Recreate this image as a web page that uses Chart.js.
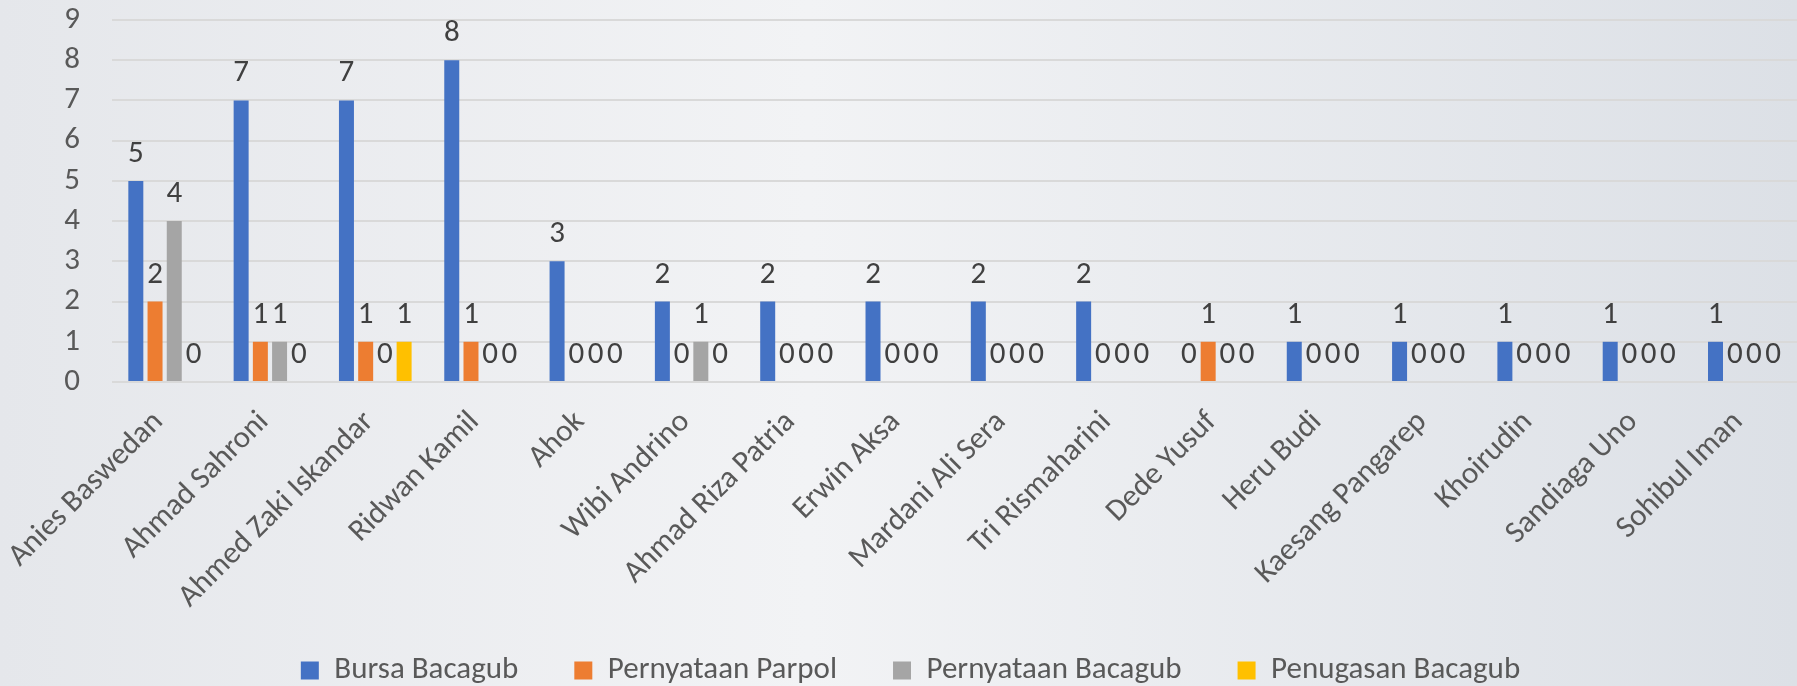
<!DOCTYPE html>
<html>
<head>
<meta charset="utf-8">
<script src="https://cdn.jsdelivr.net/npm/chart.js@4.4.1/dist/chart.umd.min.js"></script>
<style>
  body { margin: 0; background: #eef0f3; }
  #wrap { width: 1797px; height: 686px; position: relative; }
</style>
</head>
<body>
<div id="wrap"><canvas id="myChart"></canvas></div>
<script>
const categories = [
  'Anies Baswedan', 'Ahmad Sahroni', 'Ahmed Zaki Iskandar', 'Ridwan Kamil', 'Ahok',
  'Wibi Andrino', 'Ahmad Riza Patria', 'Erwin Aksa', 'Mardani Ali Sera', 'Tri Rismaharini',
  'Dede Yusuf', 'Heru Budi', 'Kaesang Pangarep', 'Khoirudin', 'Sandiaga Uno', 'Sohibul Iman'
];
const bursaBacagub       = [5, 7, 7, 8, 3, 2, 2, 2, 2, 2, 0, 1, 1, 1, 1, 1];
const pernyataanParpol   = [2, 1, 1, 1, 0, 0, 0, 0, 0, 0, 1, 0, 0, 0, 0, 0];
const pernyataanBacagub  = [4, 1, 0, 0, 0, 1, 0, 0, 0, 0, 0, 0, 0, 0, 0, 0];
const penugasanBacagub   = [0, 0, 1, 0, 0, 0, 0, 0, 0, 0, 0, 0, 0, 0, 0, 0];
const yTicks = [0, 1, 2, 3, 4, 5, 6, 7, 8, 9];

const FONT = "Calibri, Carlito, Lato, 'Open Sans', sans-serif";
const FSIZE = 31;

// background gradient like the slide behind the chart
const bgPlugin = {
  id: 'bg',
  afterLayout(chart) {
    // nudge legend a bit to the right, like the original
    chart.legend.left += 12;
    chart.legend.right += 12;
    // let long rotated names run past the x-axis box
    chart.scales.x._computeLabelArea = () => null;
  },
  beforeDraw(chart) {
    const { ctx, width, height } = chart;
    const g = ctx.createLinearGradient(0, 0, width, 0);
    g.addColorStop(0, '#e5e7eb');
    g.addColorStop(0.45, '#f2f3f5');
    g.addColorStop(1, '#dce0e6');
    ctx.save();
    ctx.fillStyle = g;
    ctx.fillRect(0, 0, width, height);
    ctx.restore();
  }
};

// value labels above every bar (zeros too)
const valueLabels = {
  id: 'valueLabels',
  afterDatasetsDraw(chart) {
    const ctx = chart.ctx;
    ctx.save();
    ctx.font = FSIZE + 'px ' + FONT;
    ctx.fillStyle = '#404040';
    ctx.textAlign = 'center';
    ctx.textBaseline = 'alphabetic';
    chart.data.datasets.forEach((ds, i) => {
      const meta = chart.getDatasetMeta(i);
      meta.data.forEach((bar, j) => {
        ctx.fillText(String(ds.data[j]), bar.x, bar.y - 19);
      });
    });
    ctx.restore();
  }
};

new Chart(document.getElementById('myChart'), {
  type: 'bar',
  data: {
    labels: categories,
    datasets: [
      { label: 'Bursa Bacagub', data: bursaBacagub, backgroundColor: '#4472C4' },
      { label: 'Pernyataan Parpol', data: pernyataanParpol, backgroundColor: '#ED7D31' },
      { label: 'Pernyataan Bacagub', data: pernyataanBacagub, backgroundColor: '#A5A5A5' },
      { label: 'Penugasan Bacagub', data: penugasanBacagub, backgroundColor: '#FFC000' }
    ]
  },
  options: {
    responsive: true,
    maintainAspectRatio: false,
    animation: false,
    datasets: { bar: { categoryPercentage: 0.73, barPercentage: 0.78 } },
    layout: { padding: { top: 20, left: 0, right: 0, bottom: -10 } },
    plugins: {
      tooltip: { enabled: false },
      legend: {
        position: 'bottom',
        labels: {
          boxWidth: 18,
          boxHeight: 18,
          padding: 56,
          color: '#595959',
          font: { family: FONT, size: FSIZE }
        }
      }
    },
    scales: {
      x: {
        grid: { display: false, drawTicks: false },
        border: { display: false },
        ticks: {
          autoSkip: false,
          minRotation: 45,
          maxRotation: 45,
          padding: 22,
          labelOffset: -6,
          color: '#595959',
          font: { family: FONT, size: FSIZE }
        },
        afterFit(scale) {
          scale.height = 217;
          scale.paddingLeft = 0;
          scale.paddingRight = 0;
        }
      },
      y: {
        min: 0,
        max: 9,
        afterBuildTicks(scale) { scale.ticks = yTicks.map(v => ({ value: v })); },
        grid: { color: '#d9d9d9', lineWidth: 2, drawTicks: true, tickLength: 32, tickColor: 'rgba(0,0,0,0)' },
        border: { display: false },
        ticks: {
          autoSkip: false,
          padding: 0,
          color: '#595959',
          font: { family: FONT, size: FSIZE }
        },
        afterFit(scale) { scale.width = 112; }
      }
    }
  },
  plugins: [bgPlugin, valueLabels]
});
</script>
</body>
</html>
